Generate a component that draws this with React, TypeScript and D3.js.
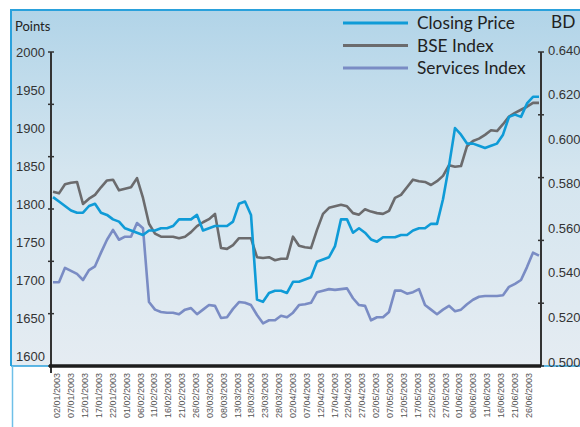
import React from 'react'
import { scaleLinear, scalePoint, line } from 'd3'

const W = 580
const H = 427

// x axis category labels (every 5th trading day)
const dateLabels = [
    '02/01/2003', '07/01/2003', '12/01/2003', '17/01/2003', '22/01/2003', '01/02/2003',
    '06/02/2003', '11/02/2003', '16/02/2003', '21/02/2003', '26/02/2003', '03/03/2003',
    '08/03/2003', '13/03/2003', '18/03/2003', '23/03/2003', '28/03/2003', '02/04/2003',
    '07/04/2003', '12/04/2003', '17/04/2003', '22/04/2003', '27/04/2003', '02/05/2003',
    '07/05/2003', '12/05/2003', '17/05/2003', '22/05/2003', '27/05/2003', '01/06/2003',
    '06/06/2003', '11/06/2003', '16/06/2003', '21/06/2003', '26/06/2003',
]

const pointTicks = [2000, 1950, 1900, 1850, 1800, 1750, 1700, 1650, 1600]
const bdTicks = [0.64, 0.62, 0.6, 0.58, 0.56, 0.54, 0.52, 0.5]

// BD, right axis
const closingPrice = [
    0.574, 0.572, 0.570, 0.568, 0.567, 0.567, 0.570, 0.571, 0.567, 0.566, 0.564, 0.563,
    0.560, 0.559, 0.558, 0.557, 0.559, 0.559, 0.560, 0.560, 0.561, 0.564, 0.564, 0.564,
    0.566, 0.559, 0.560, 0.561, 0.561, 0.561, 0.563, 0.571, 0.572, 0.566, 0.528, 0.527,
    0.531, 0.532, 0.532, 0.531, 0.536, 0.536, 0.537, 0.538, 0.545, 0.546, 0.547, 0.552,
    0.564, 0.564, 0.558, 0.560, 0.558, 0.555, 0.554, 0.556, 0.556, 0.556, 0.557, 0.557,
    0.559, 0.560, 0.560, 0.562, 0.562, 0.573, 0.588, 0.605, 0.602, 0.598, 0.598, 0.597,
    0.596, 0.597, 0.598, 0.602, 0.610, 0.611, 0.610, 0.616, 0.619, 0.619,
]

// points, left axis
const bseIndex = [
    1816, 1814, 1826, 1828, 1829, 1800, 1807, 1812, 1822, 1831, 1832, 1818,
    1820, 1822, 1834, 1808, 1774, 1761, 1757, 1757, 1757, 1755, 1757, 1763,
    1771, 1776, 1780, 1787, 1742, 1741, 1746, 1755, 1755, 1755, 1730, 1729,
    1730, 1726, 1728, 1728, 1757, 1745, 1743, 1742, 1766, 1787, 1795, 1797,
    1799, 1797, 1788, 1786, 1793, 1790, 1788, 1787, 1791, 1808, 1812, 1822,
    1832, 1830, 1829, 1825, 1830, 1837, 1851, 1849, 1850, 1876, 1883, 1886,
    1891, 1897, 1896, 1905, 1915, 1920, 1924, 1928, 1933, 1933,
]

const servicesIndex = [
    1697, 1697, 1716, 1712, 1708, 1700, 1713, 1718, 1736, 1753, 1766, 1753,
    1757, 1757, 1775, 1768, 1671, 1661, 1658, 1657, 1657, 1655, 1661, 1663,
    1655, 1661, 1667, 1666, 1650, 1651, 1662, 1671, 1670, 1667, 1654, 1643,
    1647, 1647, 1653, 1651, 1657, 1667, 1668, 1670, 1684, 1686, 1688, 1687,
    1688, 1689, 1676, 1667, 1666, 1647, 1651, 1651, 1658, 1686, 1686, 1682,
    1684, 1688, 1667, 1661, 1655, 1661, 1666, 1659, 1661, 1668, 1674, 1678,
    1679, 1679, 1679, 1680, 1691, 1695, 1700, 1717, 1736, 1732,
]

const legendNames = ['Closing Price', 'BSE Index', 'Services Index']
const colors = ['#0f9bd7', '#6b6b6d', '#7a8cc4']

const App = () => {
    const m = {l: 51, r: 541, t: 52, b: 366}

    const x = scaleLinear().domain([0, closingPrice.length - 1]).range([53, 539])
    const xLab = scalePoint().domain(dateLabels).range([57.3, 528.5])
    const yLeft = scaleLinear().domain([1600, 2000]).range([356, 52])
    const yRight = scaleLinear().domain([0.5, 0.64]).range([362, 50])
    // the tick marks on the axes don't line up with the labels in the original
    const leftMarks = scaleLinear().domain([0, 6]).range([m.b, m.t])
    const rightMarks = scaleLinear().domain([0, 5]).range([m.b, m.t])

    const leftLine = line<number>().x((_, i) => x(i)).y(d => yLeft(d))
    const rightLine = line<number>().x((_, i) => x(i)).y(d => yRight(d))

    const paths = [rightLine(closingPrice), leftLine(bseIndex), leftLine(servicesIndex)]

    const numFont = '"Liberation Sans", Arial, sans-serif'
    const legendFont = 'Lato, "Open Sans", sans-serif'

    return (
        <svg width={W} height={H} style={{position: 'absolute', left: 0, top: 0, background: '#fff'}}>
            <defs>
                <linearGradient id='bg' x1='0' y1='0' x2='0' y2='1'>
                    <stop offset='0' stopColor='#b1d4e8' />
                    <stop offset='0.45' stopColor='#d4e5ef' />
                    <stop offset='1' stopColor='#e5ecf2' />
                </linearGradient>
            </defs>
            <rect x={11} y={10} width={W} height={m.b - 10} fill='url(#bg)' />
            <path d={`M11,${m.b} V10 H${W}`} fill='none' stroke='#2aa1dc' strokeWidth='2' />
            <line x1={11} x2={m.l} y1={m.b} y2={m.b} stroke='#2aa1dc' strokeWidth='1.5' />
            <line x1={m.r} x2={W} y1={m.b} y2={m.b} stroke='#2aa1dc' strokeWidth='1.5' />
            <line x1={12.5} x2={12.5} y1={m.b} y2={H} stroke='#6fc0e8' strokeWidth='1.5' />

            <text x={15} y={31} fontFamily={legendFont} fontSize='13' fill='#222'>Points</text>
            <text x={551} y={28} fontFamily={legendFont} fontSize='17.3' fill='#222'>BD</text>

            {/* lines */}
            {[2, 1, 0].map(i => (
                <path key={i} d={paths[i]} fill='none' stroke={colors[i]} strokeWidth='2.6' strokeLinejoin='round' />
            ))}

            {/* left axis */}
            <line x1={m.l} x2={m.l} y1={m.t} y2={m.b + 7} stroke='#333' strokeWidth='2' />
            {leftMarks.ticks(6).map(t => (
                <line key={t} x1={m.l - 3} x2={m.l + 3} y1={leftMarks(t)} y2={leftMarks(t)} stroke='#333' strokeWidth='1.5' />
            ))}
            {pointTicks.map(t => (
                <text key={t} x={45} y={yLeft(t)} dy='0.35em' textAnchor='end' fontFamily={numFont} fontSize='13' fill='#333'>{t}</text>
            ))}

            {/* right axis */}
            <line x1={m.r} x2={m.r} y1={m.t} y2={m.b} stroke='#333' strokeWidth='2' />
            {rightMarks.ticks(5).map(t => (
                <line key={t} x1={m.r - 3} x2={m.r + 3} y1={rightMarks(t)} y2={rightMarks(t)} stroke='#333' strokeWidth='1.5' />
            ))}
            {bdTicks.map(t => (
                <text key={t} x={548} y={yRight(t)} dy='0.35em' fontFamily={numFont} fontSize='13' fill='#333'>{t.toFixed(3)}</text>
            ))}

            {/* x axis */}
            <line x1={m.l - 2} x2={m.r} y1={m.b} y2={m.b} stroke='#1d1d1d' strokeWidth='3.5' />
            {dateLabels.map(d => (
                <text key={d} transform={`translate(${xLab(d)},373) rotate(-90)`} dy='0.35em' textAnchor='end'
                    fontFamily={numFont} fontSize='9' fill='#555'>{d}</text>
            ))}

            {/* legend */}
            {legendNames.map((n, i) => (
                <g key={n} transform={`translate(0,${23 + i * 22.5})`}>
                    <line x1={343} x2={408} y1={0} y2={0} stroke={colors[i]} strokeWidth='3' />
                    <text x={417} y={0} dy='0.35em' fontFamily={legendFont} fontSize='17.3' fill='#222'>{n}</text>
                </g>
            ))}
        </svg>
    )
}

export default App
